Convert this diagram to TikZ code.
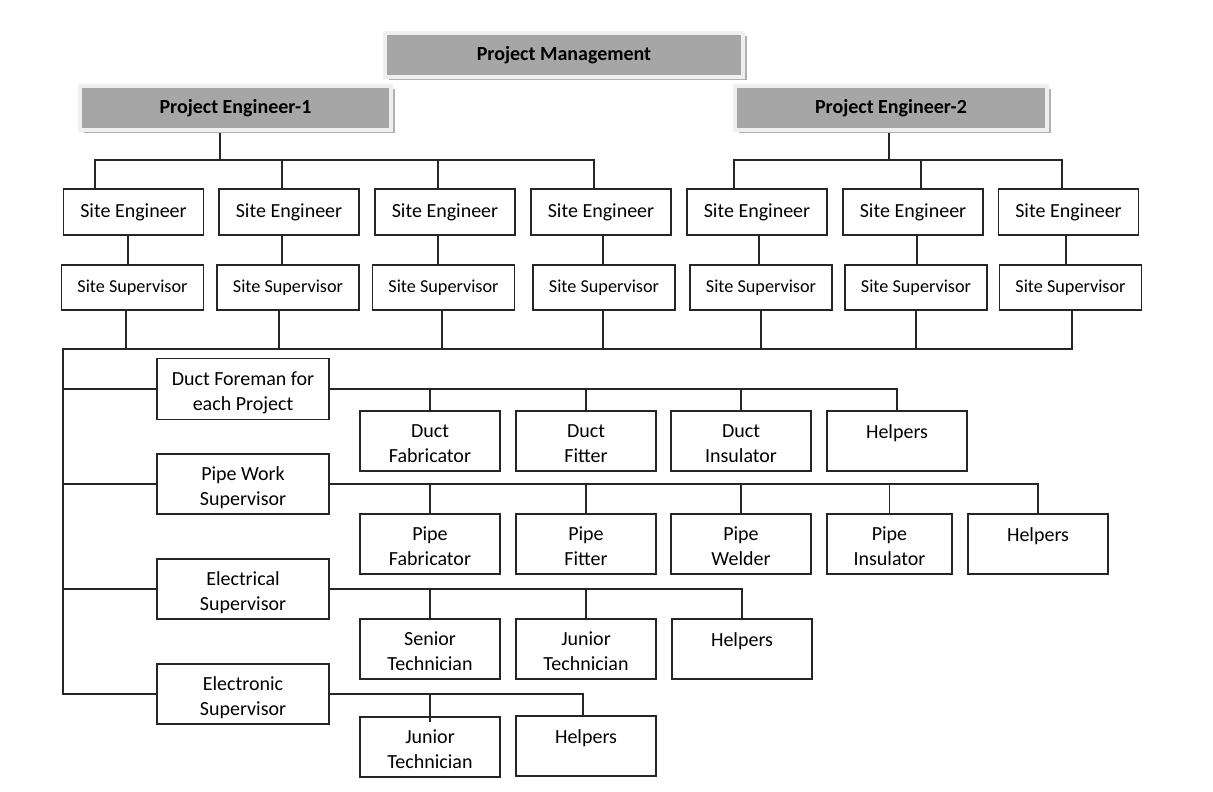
\documentclass[tikz,border=0pt]{standalone}
\usepackage{fontspec}
\setmainfont{Carlito}
\usetikzlibrary{shadows,backgrounds}
\definecolor{linec}{HTML}{262626}
\definecolor{topfill}{HTML}{A6A6A6}
\definecolor{topframe}{HTML}{EFEFEF}
\definecolor{topshadow}{HTML}{B0B0B0}
\newcommand{\supup}{\rule{0pt}{21pt}}
\newcommand{\kidup}{\rule{0pt}{19pt}}
\tikzset{
  topbox/.style={fill=topfill, draw=topframe, line width=4pt, minimum height=44pt, inner sep=0pt,
    font=\fontsize{20}{23}\selectfont\bfseries,
    drop shadow={shadow xshift=3.5pt, shadow yshift=-3pt, fill=topshadow, opacity=1}},
  sebox/.style={draw=linec, line width=1.4pt, minimum width=140pt, minimum height=46pt, inner sep=0pt,
    font=\fontsize{20}{24}\selectfont},
  ssbox/.style={draw=linec, line width=1.4pt, minimum width=142pt, minimum height=45pt, inner sep=0pt,
    font=\fontsize{18.2}{22}\selectfont},
  supbox/.style={draw=linec, line width=1.4pt, minimum width=172pt, minimum height=60pt, inner sep=0pt,
    align=center, font=\fontsize{20}{25}\selectfont},
  kidbox/.style={draw=linec, line width=1.4pt, minimum width=140pt, minimum height=60pt, inner sep=0pt,
    align=center, font=\fontsize{20}{25}\selectfont},
  conn/.style={draw=linec, line width=1.4pt}
}
\begin{document}
\begin{tikzpicture}[x=1pt,y=-1pt]
\useasboundingbox (0,0) rectangle (1213,792);
% top boxes
\node[topbox, minimum width=358pt] (pm) at (564,55) {Project Management};
\node[topbox, minimum width=311pt] (pe1) at (235.5,108) {Project Engineer-1};
\node[topbox, minimum width=312pt] (pe2) at (891,108) {Project Engineer-2};
% site engineers
\node[sebox] (se1) at (133.5,212) {Site Engineer};
\node[sebox] (se2) at (289,212) {Site Engineer};
\node[sebox] (se3) at (445,212) {Site Engineer};
\node[sebox] (se4) at (601,212) {Site Engineer};
\node[sebox] (se5) at (757,212) {Site Engineer};
\node[sebox] (se6) at (913,212) {Site Engineer};
\node[sebox] (se7) at (1068.5,212) {Site Engineer};
% site supervisors
\node[ssbox] (ss1) at (132.5,287.5) {Site Supervisor};
\node[ssbox] (ss2) at (288,287.5) {Site Supervisor};
\node[ssbox] (ss3) at (443.5,287.5) {Site Supervisor};
\node[ssbox] (ss4) at (604,287.5) {Site Supervisor};
\node[ssbox] (ss5) at (761,287.5) {Site Supervisor};
\node[ssbox] (ss6) at (916,287.5) {Site Supervisor};
\node[ssbox] (ss7) at (1070.5,287.5) {Site Supervisor};
% supervisors
\node[supbox, minimum height=61pt] (df) at (243,389) {\supup Duct Foreman for\\each Project};
\node[supbox] (pw) at (243,484) {\supup Pipe Work\\Supervisor};
\node[supbox] (es) at (243,589) {\supup Electrical\\Supervisor};
\node[supbox] (en) at (243,694) {\supup Electronic\\Supervisor};
% duct children
\node[kidbox] (dc1) at (430,441) {\kidup Duct\\Fabricator};
\node[kidbox] (dc2) at (586,441) {\kidup Duct\\Fitter};
\node[kidbox] (dc3) at (741,441) {\kidup Duct\\Insulator};
\node[kidbox] (dc4) at (897,441) {\kidup Helpers\\\mbox{}};
% pipe children
\node[kidbox] (pc1) at (430,544) {\kidup Pipe\\Fabricator};
\node[kidbox] (pc2) at (586,544) {\kidup Pipe\\Fitter};
\node[kidbox] (pc3) at (741,544) {\kidup Pipe\\Welder};
\node[kidbox, minimum width=125pt] (pc4) at (889.5,544) {\kidup Pipe\\Insulator};
\node[kidbox] (pc5) at (1038,544) {\kidup Helpers\\\mbox{}};
% electrical children
\node[kidbox] (ec1) at (430,649) {\kidup Senior\\Technician};
\node[kidbox] (ec2) at (586,649) {\kidup Junior\\Technician};
\node[kidbox] (ec3) at (742,649) {\kidup Helpers\\\mbox{}};
% electronic children
\node[kidbox] (nc1) at (430,747) {\kidup Junior\\Technician};
\node[kidbox] (nc2) at (586,746) {\kidup Helpers\\\mbox{}};

\begin{pgfonlayer}{background}
% PE1 tree
\coordinate (pb1) at (220,160);
\coordinate (a1) at (95,160);
\coordinate (a2) at (282,160);
\coordinate (a3) at (438,160);
\coordinate (a4) at (594,160);
\draw[conn] (pe1.south -| pb1) -- (pb1);
\draw[conn] (se1.north -| a1) -- (a1) -- (a4) -- (se4.north -| a4);
\draw[conn] (a2) -- (se2.north -| a2);
\draw[conn] (a3) -- (se3.north -| a3);
% PE2 tree
\coordinate (pb2) at (889,160);
\coordinate (b1) at (734,160);
\coordinate (b2) at (921,160);
\coordinate (b3) at (1062,160);
\draw[conn] (pe2.south -| pb2) -- (pb2);
\draw[conn] (se5.north -| b1) -- (b1) -- (b3) -- (se7.north -| b3);
\draw[conn] (b2) -- (se6.north -| b2);
% SE to SS
\draw[conn] (se1.south -| 128,0) -- (ss1.north -| 128,0);
\draw[conn] (se2.south -| 282,0) -- (ss2.north -| 282,0);
\draw[conn] (se3.south -| 438,0) -- (ss3.north -| 438,0);
\draw[conn] (se4.south -| 603,0) -- (ss4.north -| 603,0);
\draw[conn] (se5.south -| 759,0) -- (ss5.north -| 759,0);
\draw[conn] (se6.south -| 917,0) -- (ss6.north -| 917,0);
\draw[conn] (se7.south -| 1066,0) -- (ss7.north -| 1066,0);
% SS bus
\coordinate (m0) at (63,349);
\coordinate (m1) at (126,349);
\coordinate (m2) at (279,349);
\coordinate (m3) at (442,349);
\coordinate (m4) at (603,349);
\coordinate (m5) at (761,349);
\coordinate (m6) at (916,349);
\coordinate (m7) at (1072,349);
\coordinate (l4) at (63,694);
\draw[conn] (ss7.south -| m7) -- (m7) -- (m0) -- (l4) -- (en.west);
\draw[conn] (ss1.south -| m1) -- (m1);
\draw[conn] (ss2.south -| m2) -- (m2);
\draw[conn] (ss3.south -| m3) -- (m3);
\draw[conn] (ss4.south -| m4) -- (m4);
\draw[conn] (ss5.south -| m5) -- (m5);
\draw[conn] (ss6.south -| m6) -- (m6);
\draw[conn] (df.west -| l4) -- (df.west);
\draw[conn] (pw.west -| l4) -- (pw.west);
\draw[conn] (es.west -| l4) -- (es.west);
% duct
\draw[conn] (df.east) -- (dc4.north |- df.east) -- (dc4.north);
\draw[conn] (dc1.north |- df.east) -- (dc1.north);
\draw[conn] (dc2.north |- df.east) -- (dc2.north);
\draw[conn] (dc3.north |- df.east) -- (dc3.north);
% pipe
\draw[conn] (pw.east) -- (pc5.north |- pw.east) -- (pc5.north);
\draw[conn] (pc1.north |- pw.east) -- (pc1.north);
\draw[conn] (pc2.north |- pw.east) -- (pc2.north);
\draw[conn] (pc3.north |- pw.east) -- (pc3.north);
\draw[conn] (pc4.north |- pw.east) -- (pc4.north);
% electrical
\draw[conn] (es.east) -- (ec3.north |- es.east) -- (ec3.north);
\draw[conn] (ec1.north |- es.east) -- (ec1.north);
\draw[conn] (ec2.north |- es.east) -- (ec2.north);
% electronic
\draw[conn] (en.east) -- (583,694) -- (nc2.north -| 583,0);
\draw[conn] (nc1.north |- en.east) -- ([yshift=-6pt]nc1.north);
\end{pgfonlayer}
\end{tikzpicture}
\end{document}
